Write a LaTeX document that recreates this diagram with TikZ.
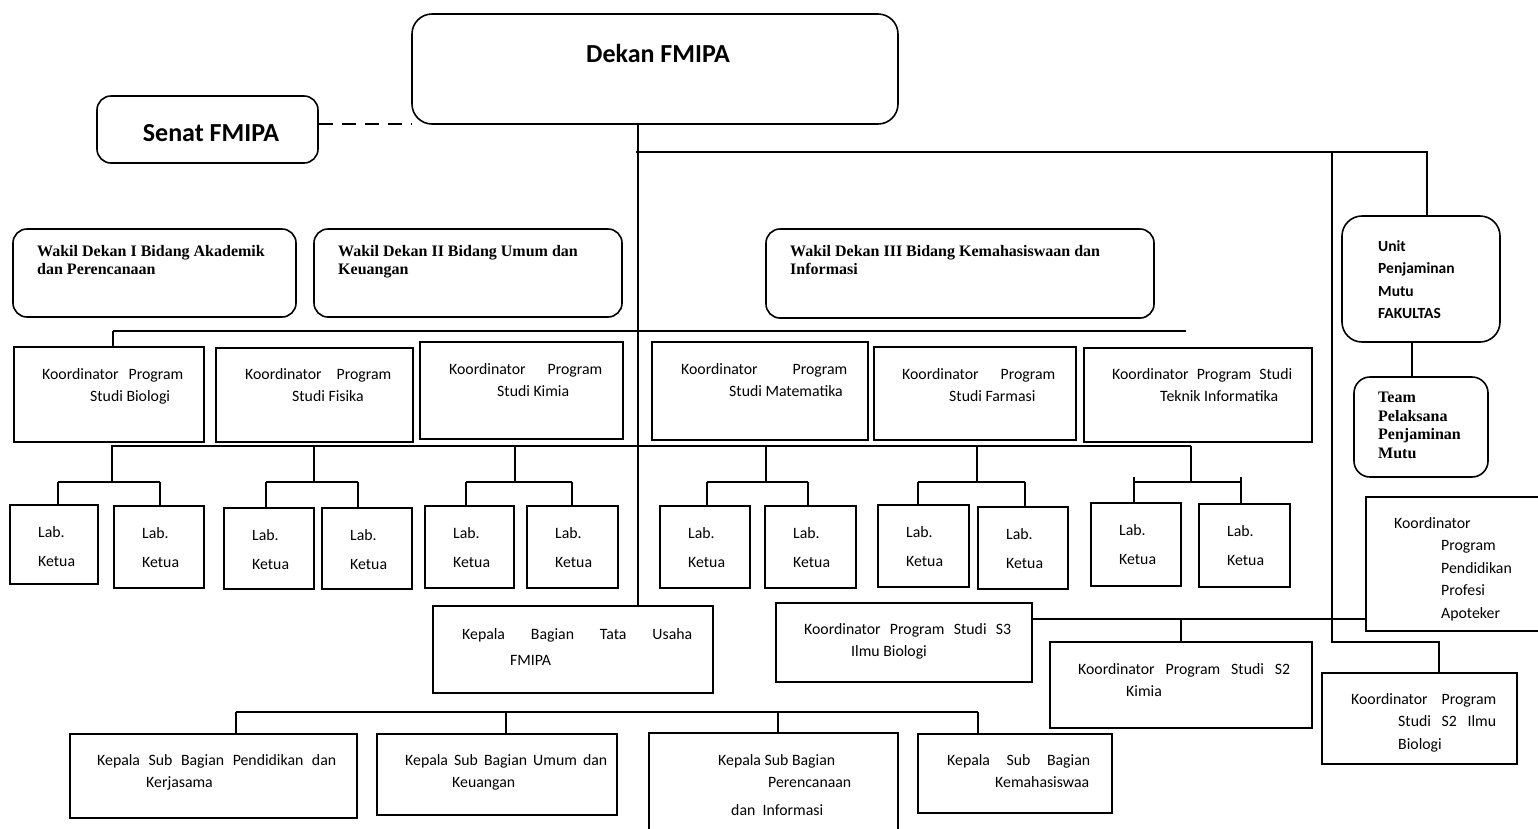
\documentclass[tikz,border=0pt]{standalone}
\usepackage{fontspec}
\setmainfont{Carlito}
\newfontfamily\wakilfont{Liberation Serif}
\usetikzlibrary{fit}

\begin{document}
\begin{tikzpicture}[x=1pt, y=-1pt,
  orgbox/.style={draw, line width=1.6pt, inner sep=0pt},
  roundbox/.style={orgbox, rounded corners=14pt},
  txt/.style={anchor=north west, inner sep=0pt, align=left, font=\fontsize{15.8}{22}\selectfont},
  wtxt/.style={txt, font=\wakilfont\bfseries\fontsize{16}{18}\selectfont},
  conn/.style={line width=1.6pt}]
  \useasboundingbox (0,0) rectangle (1538,828);

  % pimpinan
  \node[roundbox, rounded corners=20pt, fit={(412,14) (898,124)}] (dekan) {};
  \node[font=\bfseries\fontsize{26}{30}\selectfont] (t-dekan) at (658,53) {Dekan FMIPA};
  \node[roundbox, fit={(97,96) (318,163)}] (senat) {};
  \node[font=\bfseries\fontsize{26}{30}\selectfont] (t-senat) at (211,133) {Senat FMIPA};

  \node[roundbox, fit={(13,229) (296,317)}] (wd1) {};
  \node[wtxt] (t-wd1) at (37,245) {Wakil Dekan I Bidang Akademik\\dan Perencanaan};
  \node[roundbox, fit={(314,229) (622,317)}] (wd2) {};
  \node[wtxt] (t-wd2) at (338,245) {Wakil Dekan II Bidang Umum dan\\Keuangan};
  \node[roundbox, fit={(766,229) (1154,318)}] (wd3) {};
  \node[wtxt] (t-wd3) at (790,245) {Wakil Dekan III Bidang Kemahasiswaan dan\\Informasi};

  \node[roundbox, rounded corners=20pt, fit={(1342,216) (1500,342)}] (upm) {};
  \node[txt, font=\bfseries\fontsize{15.5}{22.6}\selectfont] (t-upm) at (1378,240) {Unit\\Penjaminan\\Mutu\\FAKULTAS};
  \node[roundbox, rounded corners=16pt, fit={(1354,377) (1488,477)}] (tppm) {};
  \node[wtxt, font=\wakilfont\bfseries\fontsize{16}{18.6}\selectfont] (t-tppm) at (1378,392) {Team\\Pelaksana\\Penjaminan\\Mutu};

  % koordinator program studi
  \node[orgbox, fit={(14,347) (204,442)}] (kbio) {};
  \node[txt] (t-kbio) at (42,368) {\makebox[141pt][s]{Koordinator Program}\\\hspace*{48pt}Studi Biologi};
  \node[orgbox, fit={(216,348) (413,442)}] (kfis) {};
  \node[txt] (t-kfis) at (245,368) {\makebox[146pt][s]{Koordinator Program}\\\hspace*{47pt}Studi Fisika};
  \node[orgbox, fit={(420,342) (623,439)}] (kkim) {};
  \node[txt] (t-kkim) at (449,363) {\makebox[153pt][s]{Koordinator Program}\\\hspace*{48pt}Studi Kimia};
  \node[orgbox, fit={(652,342) (868,440)}] (kmat) {};
  \node[txt] (t-kmat) at (681,363) {\makebox[166pt][s]{Koordinator Program}\\\hspace*{48pt}Studi Matematika};
  \node[orgbox, fit={(874,347) (1076,440)}] (kfar) {};
  \node[txt] (t-kfar) at (902,368) {\makebox[153pt][s]{Koordinator Program}\\\hspace*{47pt}Studi Farmasi};
  \node[orgbox, fit={(1084,348) (1312,442)}] (kti) {};
  \node[txt] (t-kti) at (1112,368) {\makebox[180pt][s]{Koordinator Program Studi}\\\hspace*{48pt}Teknik Informatika};

  % laboratorium
  \foreach \n/\xa/\ya/\xb/\yb in {1/10/505/98/584, 2/114/506/204/588, 3/224/508/314/589,
      4/322/508/412/589, 5/425/506/514/588, 6/527/506/618/588, 7/660/506/750/588,
      8/765/506/856/588, 9/878/505/969/587, 10/978/507/1068/589, 11/1091/503/1181/586,
      12/1199/504/1290/587} {
    \node[orgbox, fit={(\xa,\ya) (\xb,\yb)}] (lab\n) {};
    \node[txt] (t-lab\n) at (\xa+28,\ya+21) {Lab.\\[7pt]Ketua};
  }

  % tata usaha
  \node[orgbox, fit={(433,606) (713,693)}] (kbtu) {};
  \node[txt] (t-kbtu) at (462,628) {\makebox[230pt][s]{Kepala Bagian Tata Usaha}\\[4pt]\hspace*{48pt}FMIPA};
  \node[orgbox, fit={(70,734) (357,818)}] (ksb1) {};
  \node[txt] (t-ksb1) at (97,754) {\makebox[239pt][s]{Kepala Sub Bagian Pendidikan dan}\\\hspace*{49pt}Kerjasama};
  \node[orgbox, fit={(377,734) (617,815)}] (ksb2) {};
  \node[txt] (t-ksb2) at (405,754) {\makebox[202pt][s]{Kepala Sub Bagian Umum dan}\\\hspace*{47pt}Keuangan};
  \node[orgbox, fit={(649,733) (898,840)}] (ksb3) {};
  \node[txt] (t-ksb3) at (718,754) {Kepala Sub Bagian\\\hspace*{50pt}Perencanaan\\[6pt]\hspace*{13pt}\makebox[92pt][s]{dan Informasi}};
  \node[orgbox, fit={(918,734) (1112,813)}] (ksb4) {};
  \node[txt] (t-ksb4) at (947,754) {\makebox[143pt][s]{Kepala Sub Bagian}\\\hspace*{48pt}Kemahasiswaa};

  % pascasarjana dan profesi
  \node[orgbox, fit={(776,603) (1032,682)}] (ks3bio) {};
  \node[txt] (t-ks3bio) at (804,623) {\makebox[207pt][s]{Koordinator Program Studi S3}\\\hspace*{47pt}Ilmu Biologi};
  \node[orgbox, fit={(1050,642) (1312,728)}] (ks2kim) {};
  \node[txt] (t-ks2kim) at (1078,663) {\makebox[212pt][s]{Koordinator Program Studi S2}\\\hspace*{48pt}Kimia};
  \node[orgbox, fit={(1322,673) (1517,764)}] (ks2bio) {};
  \node[txt, font=\fontsize{15.8}{22.5}\selectfont] (t-ks2bio) at (1351,693) {\makebox[145pt][s]{Koordinator Program}\\\hspace*{47pt}\makebox[98pt][s]{Studi S2 Ilmu}\\\hspace*{47pt}Biologi};
  \node[orgbox, fit={(1366,497) (1548,631)}] (kppa) {};
  \node[txt, font=\fontsize{15.8}{22.5}\selectfont] (t-kppa) at (1394,517) {Koordinator\\\hspace*{47pt}Program\\\hspace*{47pt}Pendidikan\\\hspace*{47pt}Profesi\\\hspace*{47pt}Apoteker};

  % garis
  \coordinate (spine) at (638,0);
  \coordinate (sd) at ([yshift=5.5pt]senat.east);
  \draw[conn, dash pattern=on 14pt off 9pt] (sd) -- (sd -| dekan.west);
  \draw[conn] (dekan.south -| spine) -- (kbtu.north -| spine);
  \draw[conn] (636,152) -- (1427,152) -- (1427,152 |- upm.north);
  \draw[conn] (1332,152) -- (1332,642) -- (1439,642) -- (1439,642 |- ks2bio.north);
  \draw[conn] (1412,0 |- upm.south) -- (1412,0 |- tppm.north);
  \draw[conn] (113,331) -- (1186,331);
  \draw[conn] (113,331) -- (113,0 |- kbio.north);
  \draw[conn] (111,446) -- (1191,446);
  \foreach \m/\a/\b/\t/\l/\r in {112/58/160/482/1/2, 314/266/358/482/3/4, 515/466/572/482/5/6,
      766/707/808/482/7/8, 977/918/1025/482/9/10, 1191/1134/1241/477/11/12} {
    \draw[conn] (\m,446) -- (\m,482);
    \draw[conn] (\a,482) -- (\b,482);
    \draw[conn] (\a,\t) -- (\a,0 |- lab\l.north);
    \draw[conn] (\b,\t) -- (\b,0 |- lab\r.north);
  }
  \draw[conn] (ks3bio.east |- 0,619) -- (kppa.west |- 0,619);
  \draw[conn] (ks2kim.north |- 0,619) -- (ks2kim.north);
  \draw[conn] (236,712) -- (978,712);
  \foreach \x/\n in {236/1, 506/2, 778/3, 978/4}
    \draw[conn] (\x,712) -- (\x,0 |- ksb\n.north);
\end{tikzpicture}
\end{document}
